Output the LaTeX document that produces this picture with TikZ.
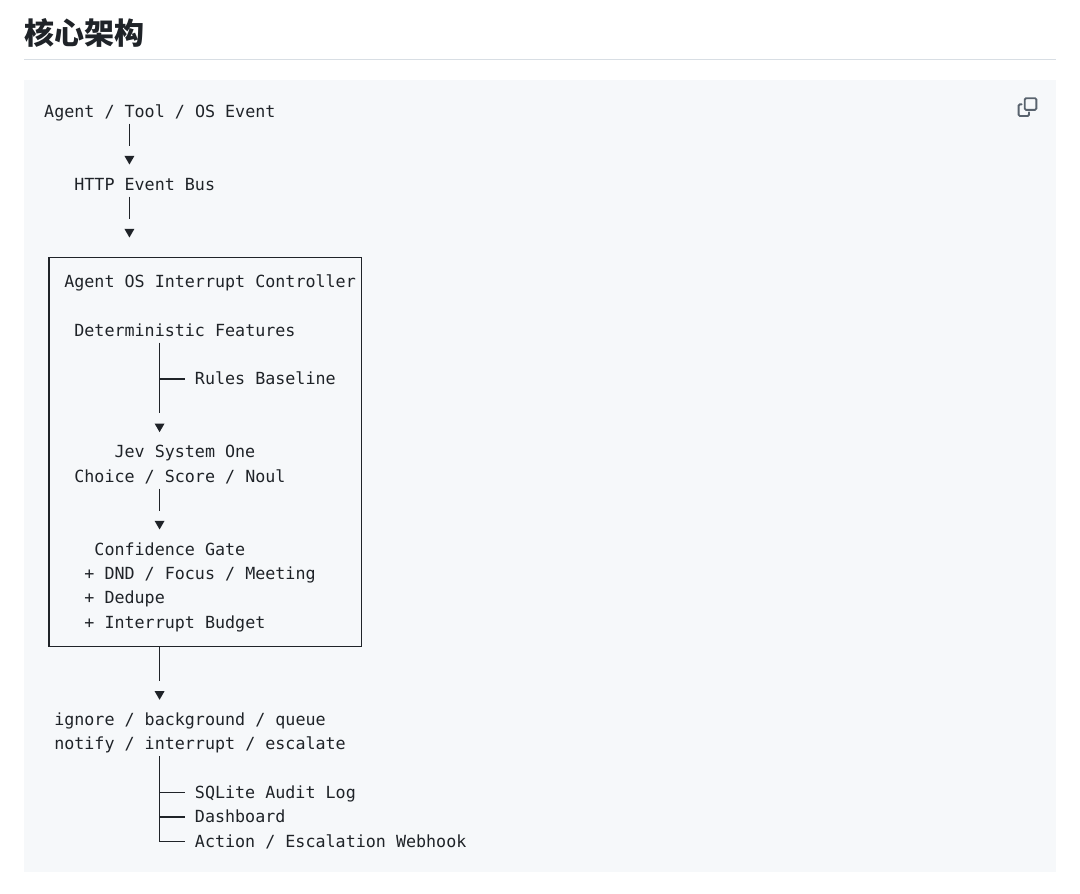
\documentclass[tikz,border=0pt]{standalone}
\usepackage{fontspec}
\setmonofont{DejaVu Sans Mono}
\newfontfamily\cjk{Noto Sans CJK SC}
\usepackage{tikz}
\usetikzlibrary{shapes.geometric}
\definecolor{ink}{HTML}{1F2328}
\definecolor{codebg}{HTML}{F6F8FA}
\definecolor{rulegray}{HTML}{D8DEE4}
\definecolor{icongray}{HTML}{59636E}
\newcommand{\codefont}{\fontsize{16.7pt}{24.33pt}\selectfont\ttfamily}
\tikzset{
  heading/.style={font=\cjk\bfseries\fontsize{30pt}{36pt}\selectfont, text=ink, inner sep=0pt, anchor=base west},
  codeline/.style={font=\codefont, text=ink, inner sep=0pt, anchor=west, text height=18.2pt, text depth=6.1pt},
  downtip/.style={regular polygon, regular polygon sides=3, shape border rotate=180, fill=ink, inner sep=0pt, minimum size=11.5pt, yshift=1.2pt},
  ctrlbox/.style={draw=ink, line width=1.3pt, inner sep=0pt, minimum width=312.5pt, minimum height=389.28pt},
  stem/.style={draw=ink, line width=1.3pt, shorten >=10pt},
  branch/.style={draw=ink, line width=1.3pt, shorten >=10.05pt}
}

\begin{document}
\begin{tikzpicture}[x=1pt, y=-1pt]
  \useasboundingbox (0,0) rectangle (1080,894);
  \node[heading] (title) at (24,45) {核心架构};
  \draw[rulegray, line width=1.3pt] (24,59.5) -- (1056,59.5);
  \fill[codebg] (24,80) rectangle (1056,872);

  \begin{scope}[shift={(1017.7,97.3)}, x=1.225pt, y=-1.225pt, color=icongray, line width=1.84pt]
    \draw[rounded corners=1.3pt] (5.75,0.75) rectangle (15.25,10.25);
    \draw[rounded corners=1.3pt, line cap=round] (3.25,5.75) -- (0.75,5.75) -- (0.75,15.25) -- (9.25,15.25) -- (9.25,12.25);
  \end{scope}

  \begin{scope}[shift={(44,111.3)}, x=10.05pt, y=-24.33pt]
    \node[codeline] (agent) at (0,0) {Agent / Tool / OS Event};
    \node[downtip] (tipA) at (8.5,2) {};
    \node[codeline] (bus) at (3,3) {HTTP Event Bus};
    \node[downtip] (tipB) at (8.5,5) {};

    \node[ctrlbox] (ctrl) at (16.05,14) {};
    \node[codeline] (ctrlname) at (2,7) {Agent OS Interrupt Controller};
    \node[codeline] (feat) at (3,9) {Deterministic Features};
    \node[codeline] (rules) at (15,11) {Rules Baseline};
    \node[downtip] (tipC) at (11.5,13) {};
    \node[codeline] (jev) at (7,14) {Jev System One};
    \node[codeline] (choice) at (3,15) {Choice / Score / Noul};
    \node[downtip] (tipD) at (11.5,17) {};
    \node[codeline] (gate) at (5,18) {Confidence Gate};
    \node[codeline] (dnd) at (4,19) {+ DND / Focus / Meeting};
    \node[codeline] (dedupe) at (4,20) {+ Dedupe};
    \node[codeline] (budget) at (4,21) {+ Interrupt Budget};

    \node[downtip] (tipE) at (11.5,24) {};
    \node[codeline] (decA) at (1,25) {ignore / background / queue};
    \node[codeline] (decB) at (1,26) {notify / interrupt / escalate};
    \node[codeline] (audit) at (15,28) {SQLite Audit Log};
    \node[codeline] (dashb) at (15,29) {Dashboard};
    \node[codeline] (hook) at (15,30) {Action / Escalation Webhook};

    \draw[stem] (agent.south -| tipA) -- (tipA);
    \draw[stem] (bus.south -| tipB) -- (tipB);
    \draw[stem] (feat.south -| tipC) -- (tipC);
    \draw[branch] (rules.west -| tipC) -- (rules.west);
    \draw[stem] (choice.south -| tipD) -- (tipD);
    \draw[stem] (ctrl.south -| tipE) -- (tipE);
    \draw[branch] (decB.south -| tipE) |- (hook.west);
    \draw[branch] (audit.west -| tipE) -- (audit.west);
    \draw[branch] (dashb.west -| tipE) -- (dashb.west);
  \end{scope}
\end{tikzpicture}
\end{document}
